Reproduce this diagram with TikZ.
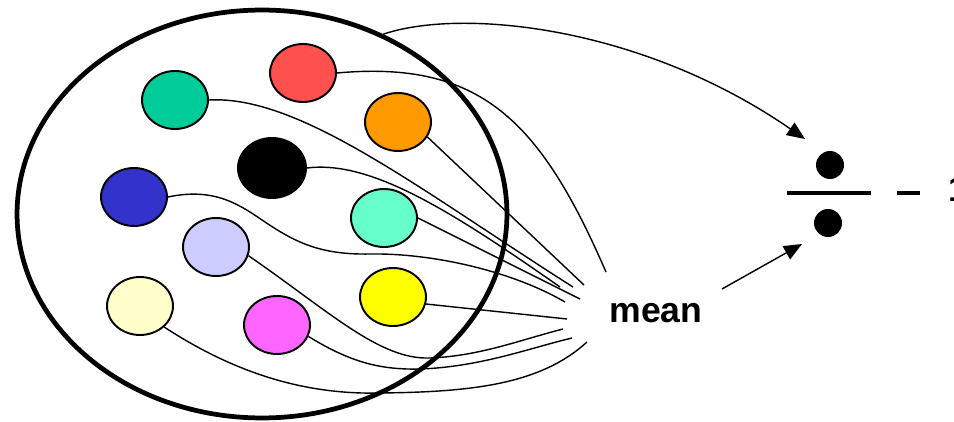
\documentclass[tikz,border=0pt]{standalone}
\usepackage{fontspec}
\newfontfamily\arialfont{Liberation Sans}
\usetikzlibrary{shapes.geometric,arrows.meta}
\definecolor{cgreen}{HTML}{00CC99}
\definecolor{cred}{HTML}{FF5050}
\definecolor{corange}{HTML}{FF9900}
\definecolor{cblue}{HTML}{3333CC}
\definecolor{caqua}{HTML}{66FFCC}
\definecolor{clav}{HTML}{CCCCFF}
\definecolor{clyel}{HTML}{FFFFCC}
\definecolor{cmag}{HTML}{FF66FF}
\definecolor{cyel}{HTML}{FFFF00}
\begin{document}
\begin{tikzpicture}[x=0.02cm,y=-0.02cm,
  ball/.style={ellipse,draw,line width=1.1pt,minimum width=1.32cm,minimum height=1.16cm,inner sep=0pt},
  wire/.style={line width=0.8pt},
  arr/.style={line width=0.8pt,-{Triangle[length=0.36cm,width=0.3cm]}},
  dot/.style={circle,fill=black,minimum size=0.56cm,inner sep=0pt},
  lbl/.style={font=\arialfont\bfseries\fontsize{20.25}{24}\selectfont,inner sep=0pt}
  ]
\useasboundingbox (0,0) rectangle (954,422);
% big pool
\node[ellipse,draw,line width=2.7pt,minimum width=9.8cm,minimum height=8.16cm,inner sep=0pt] (pool) at (262,214) {};
% small balls
\node[ball,fill=cgreen] (green) at (175,100) {};
\node[ball,fill=cred] (red) at (303,73) {};
\node[ball,fill=corange] (orange) at (398,122) {};
\node[ball,fill=black,minimum width=1.36cm,minimum height=1.2cm] (blk) at (272,168) {};
\node[ball,fill=cblue] (blue) at (134,197) {};
\node[ball,fill=caqua] (aqua) at (384,218) {};
\node[ball,fill=clav] (lav) at (216,247) {};
\node[ball,fill=clyel] (lyel) at (140,306) {};
\node[ball,fill=cmag] (mag) at (277,325) {};
\node[ball,fill=cyel] (yel) at (393,297) {};
% label
\node[lbl,anchor=base] (mean) at (656,323) {mean};
% free ends near mean
\coordinate (e1) at (606,272);
\coordinate (e2) at (584,285);
\coordinate (e3) at (573,287);
\coordinate (e4) at (560,287);
\coordinate (e5) at (580,299);
\coordinate (e6) at (565,302);
\coordinate (e7) at (567,319);
\coordinate (e8) at (563,329);
\coordinate (e9) at (572,338);
\coordinate (e10) at (587,342);
% wires
\draw[wire] (red.east) .. controls (480,60) and (540,120) .. (e1);
\draw[wire] (orange.-27) -- (e2);
\draw[wire] (green.east) .. controls (300,95) and (420,190) .. (e3);
\draw[wire] (blk.east) .. controls (370,160) and (450,210) .. (e4);
\draw[wire] (aqua.east) -- (e5);
\draw[wire] (blue.east) .. controls (215,187) and (240,205) .. (265,222)
   .. controls (295,242) and (320,255) .. (370,254)
   .. controls (430,253) and (510,270) .. (e6);
\draw[wire] (yel.-12) -- (e7);
\draw[wire] (lav.-15) .. controls (330,312) and (380,360) .. (430,358)
   .. controls (480,356) and (520,340) .. (e8);
\draw[wire] (mag.-20) .. controls (350,362) and (380,370) .. (420,369)
   .. controls (480,367) and (530,348) .. (e9);
\draw[wire] (lyel.-41) .. controls (230,370) and (300,395) .. (380,393)
   .. controls (470,392) and (540,385) .. (e10);
% right part
\node[dot] (dotT) at (830,165) {};
\node[dot] (dotB) at (828,223) {};
\coordinate (tipA) at (805,139);
\coordinate (startB) at (722,289);
\coordinate (tipB) at (802,244);
\draw[arr] (pool.56) .. controls (460,8) and (640,25) .. (tipA);
\draw[arr] (startB) -- (tipB);
\draw[line width=1.8pt] (787,193) -- (871,193);
\draw[line width=1.8pt] (897,193) -- (920,193);
\node[lbl,anchor=base west] (one) at (948,202) {1};
\end{tikzpicture}
\end{document}
